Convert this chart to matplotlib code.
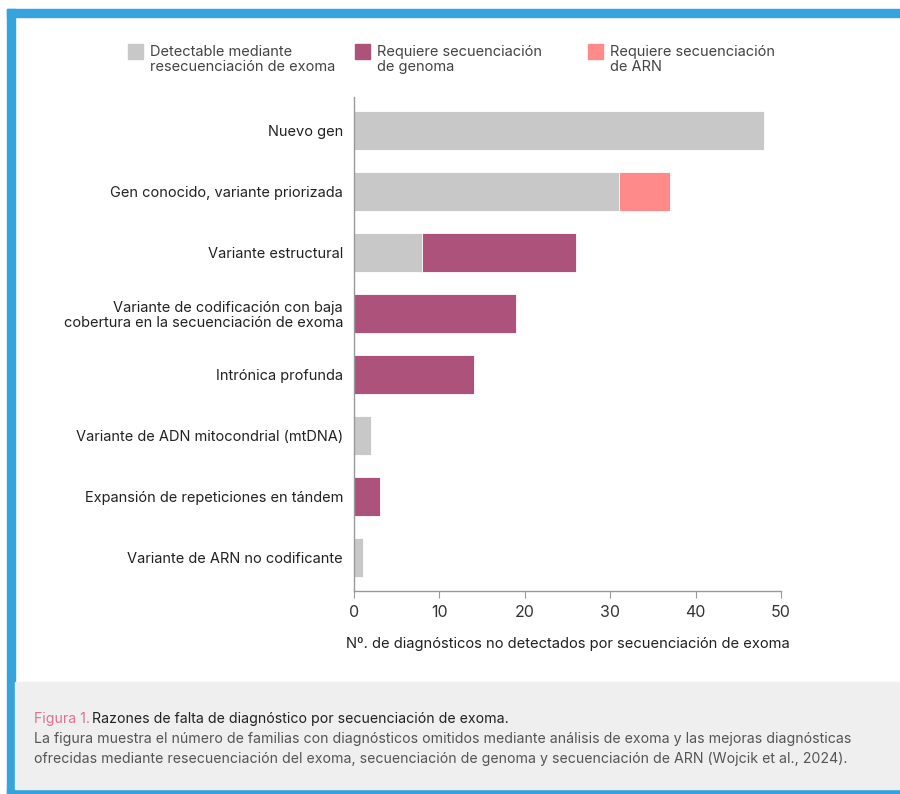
import matplotlib
matplotlib.use("Agg")
import matplotlib.pyplot as plt
from matplotlib.patches import Rectangle
import numpy as np

plt.rcParams['font.family'] = ['Inter', 'DejaVu Sans']

categories = [
    "Nuevo gen",
    "Gen conocido, variante priorizada",
    "Variante estructural",
    "Variante de codificación con baja\ncobertura en la secuenciación de exoma",
    "Intrónica profunda",
    "Variante de ADN mitocondrial (mtDNA)",
    "Expansión de repeticiones en tándem",
    "Variante de ARN no codificante",
]
exome_reseq = [48, 31, 8, 0, 0, 2, 0, 1]
genome_seq = [0, 0, 18, 19, 14, 0, 3, 0]
rna_seq = [0, 6, 0, 0, 0, 0, 0, 0]
series_labels = ["Detectable mediante\nresecuenciación de exoma",
                 "Requiere secuenciación\nde genoma",
                 "Requiere secuenciación\nde ARN"]
xticks = [0, 10, 20, 30, 40, 50]
xlabel = "Nº. de diagnósticos no detectados por secuenciación de exoma"

colors = ["#c8c8c8", "#ad527a", "#ff8a8a"]
BLUE = "#35a3dc"

fig = plt.figure(figsize=(9, 7.94), dpi=100)
W, H = 900, 794

def fx(px):
    return px / W

def fy(py):
    return 1 - py / H

# frame: blue border top/left/bottom, gray caption box
fig.patches.append(Rectangle((fx(7), fy(17)), 1 - fx(7), fy(9) - fy(17), transform=fig.transFigure,
                             color=BLUE, zorder=0))
fig.patches.append(Rectangle((fx(7), fy(794)), fx(15) - fx(7), fy(9) - fy(794), transform=fig.transFigure,
                             color=BLUE, zorder=0))
fig.patches.append(Rectangle((fx(7), fy(794)), 1 - fx(7), fy(789) - fy(794), transform=fig.transFigure,
                             color=BLUE, zorder=0))
fig.patches.append(Rectangle((fx(15), fy(789)), 1 - fx(15), fy(682) - fy(789), transform=fig.transFigure,
                             color="#efefef", zorder=0))

ax = fig.add_axes([fx(354), fy(591), fx(781) - fx(354), fy(97) - fy(591)])
y = np.arange(len(categories))
left = np.zeros(len(categories))
for vals, c in zip([exome_reseq, genome_seq, rna_seq], colors):
    v = np.array(vals, dtype=float)
    mask = v > 0
    ax.barh(y[mask], v[mask], left=left[mask], height=0.65, color=c,
            edgecolor="white", linewidth=0.6)
    left += v

ax.set_xlim(0, 50)
ax.set_ylim(7.55, -0.55)
ax.set_yticks(y)
ax.set_yticklabels(categories, fontsize=10.5, color="#222222", linespacing=1.1)
ax.set_xticks(xticks)
ax.set_xticklabels([str(t) for t in xticks], fontsize=11.5, color="#333333")
ax.tick_params(axis='y', length=0, pad=8)
ax.tick_params(axis='x', length=5, color="#999999", pad=5)
for s in ["top", "right"]:
    ax.spines[s].set_visible(False)
for s in ["left", "bottom"]:
    ax.spines[s].set_color("#999999")
    ax.spines[s].set_linewidth(1)
ax.set_xlabel(xlabel, fontsize=10.6, color="#222222", labelpad=12)

# legend
leg_x = [128, 355, 588]
for lx, lab, c in zip(leg_x, series_labels, colors):
    fig.patches.append(Rectangle((fx(lx), fy(59)), fx(15), fy(44) - fy(59),
                                 transform=fig.transFigure, color=c))
    fig.text(fx(lx + 22), fy(45), lab, fontsize=10.5, color="#444444",
             va="top", ha="left", linespacing=1.05)

# caption
fig.text(fx(34), fy(719), "Figura 1.", fontsize=10.2, color="#e0708f", va="center", ha="left")
fig.text(fx(92), fy(719), "Razones de falta de diagnóstico por secuenciación de exoma.",
         fontsize=10.2, color="#222222", va="center", ha="left")
fig.text(fx(34), fy(739), "La figura muestra el número de familias con diagnósticos omitidos mediante análisis de exoma y las mejoras diagnósticas",
         fontsize=10.2, color="#555555", va="center", ha="left")
fig.text(fx(34), fy(759), "ofrecidas mediante resecuenciación del exoma, secuenciación de genoma y secuenciación de ARN (Wojcik et al., 2024).",
         fontsize=10.2, color="#555555", va="center", ha="left")

fig.savefig("out.png", dpi=100)
